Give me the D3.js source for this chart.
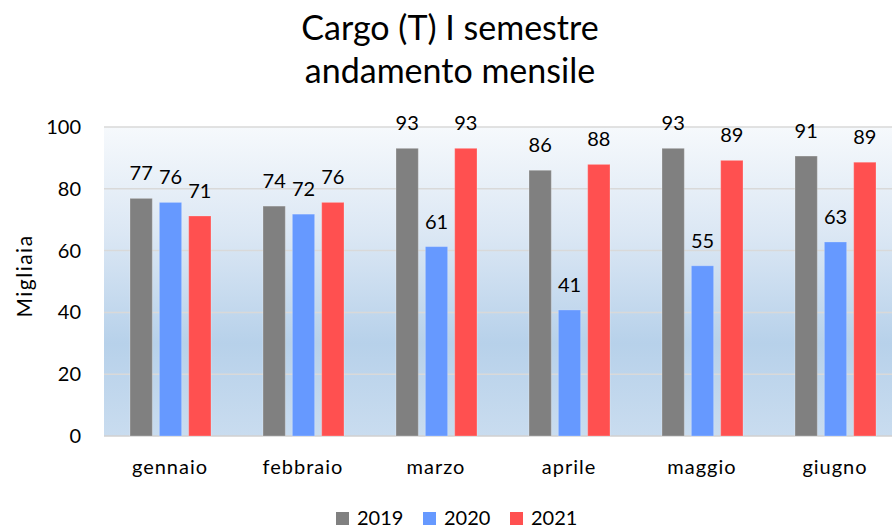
<!DOCTYPE html>
<html>
<head>
<meta charset="utf-8">
<script src="https://cdn.jsdelivr.net/npm/d3@7"></script>
<style>
  body { margin: 0; background: #fff; }
  svg { display: block; font-family: Lato, "Open Sans", sans-serif; }
</style>
</head>
<body>
<svg id="chart" width="892" height="529"></svg>
<script>
// months and series (thousands)
var mesi = ["gennaio", "febbraio", "marzo", "aprile", "maggio", "giugno"];
var anni = ["2019", "2020", "2021"];
var val2019 = [76.9, 74.4, 93.1, 86.0, 93.1, 90.6];
var val2020 = [75.6, 71.8, 61.3, 40.8, 55.1, 62.8];
var val2021 = [71.2, 75.6, 93.1, 87.9, 89.2, 88.6];
var yTicks = [0, 20, 40, 60, 80, 100];
var colori = ["#808080", "#6699ff", "#ff5050"];

var serie = [val2019, val2020, val2021];

var svg = d3.select("#chart");
var pLeft = 104, pRight = 902, pTop = 127, pBottom = 436;

var x = d3.scaleBand().domain(mesi).range([pLeft, pRight]);
var xs = d3.scaleBand().domain(anni).range([0, 81]).paddingInner(0.24);
var y = d3.scaleLinear().domain([0, 100]).range([pBottom, pTop]);

// plot background gradient
var grad = svg.append("defs").append("linearGradient")
    .attr("id", "bg").attr("x1", 0).attr("y1", 0).attr("x2", 0).attr("y2", 1);
grad.append("stop").attr("offset", "0%").attr("stop-color", "#f6f9fc");
grad.append("stop").attr("offset", "35%").attr("stop-color", "#dbe7f4");
grad.append("stop").attr("offset", "70%").attr("stop-color", "#b7d1ea");
grad.append("stop").attr("offset", "100%").attr("stop-color", "#c9dcef");

svg.append("rect")
    .attr("x", pLeft).attr("y", pTop)
    .attr("width", pRight - pLeft).attr("height", pBottom - pTop)
    .attr("fill", "url(#bg)");

// gridlines
svg.append("g")
    .selectAll("line")
    .data(yTicks)
    .enter()
    .append("line")
    .attr("x1", pLeft).attr("x2", pRight)
    .attr("y1", (d) => y(d)).attr("y2", (d) => y(d))
    .attr("stroke", (d) => d === 0 ? "#d0d0d0" : "#d9d9d9")
    .attr("stroke-width", 1.5);

// y tick labels
svg.append("g")
    .selectAll("text")
    .data(yTicks)
    .enter()
    .append("text")
    .attr("x", 81).attr("y", (d) => y(d))
    .attr("dy", "0.35em")
    .attr("text-anchor", "end")
    .attr("font-size", 20)
    .attr("fill", "#000")
    .text((d) => d);

// bars
var gruppi = svg.append("g")
    .selectAll("g")
    .data(mesi)
    .enter()
    .append("g")
    .attr("transform", (d) => "translate(" + (x(d) + x.bandwidth() / 2 - 40.5) + ",0)");

gruppi.selectAll("rect")
    .data((m, i) => serie.map((s, k) => ({ anno: anni[k], v: s[i], c: colori[k] })))
    .enter()
    .append("rect")
    .attr("x", (d) => xs(d.anno))
    .attr("width", xs.bandwidth())
    .attr("y", (d) => y(d.v))
    .attr("height", (d) => y(0) - y(d.v))
    .attr("fill", (d) => d.c)
    .attr("stroke", "#ffffff")
    .attr("stroke-opacity", 0.25)
    .attr("stroke-width", 1);

// data labels
gruppi.selectAll("text")
    .data((m, i) => serie.map((s, k) => ({ anno: anni[k], v: s[i] })))
    .enter()
    .append("text")
    .attr("x", (d) => xs(d.anno) + xs.bandwidth() / 2)
    .attr("y", (d) => y(d.v) - 18)
    .attr("text-anchor", "middle")
    .attr("font-size", 20)
    .text((d) => d3.format(".0f")(d.v));

// x labels
svg.append("g")
    .selectAll("text")
    .data(mesi)
    .enter()
    .append("text")
    .attr("x", (d) => x(d) + x.bandwidth() / 2 - 0.5)
    .attr("y", 474)
    .attr("text-anchor", "middle")
    .attr("font-size", 20)
    .attr("letter-spacing", 1)
    .text((d) => d);

// axis title
svg.append("text")
    .attr("transform", "translate(32,276) rotate(-90)")
    .attr("text-anchor", "middle")
    .attr("font-size", 21)
    .attr("letter-spacing", 1.5)
    .text("Migliaia");

// title
svg.append("text")
    .attr("x", 450).attr("y", 40)
    .attr("text-anchor", "middle")
    .attr("font-size", 34)
    .text("Cargo (T) I semestre");
svg.append("text")
    .attr("x", 450).attr("y", 83)
    .attr("text-anchor", "middle")
    .attr("font-size", 34)
    .text("andamento mensile");

// legend
var leg = svg.append("g")
    .selectAll("g")
    .data(anni)
    .enter()
    .append("g")
    .attr("transform", (d, i) => "translate(" + (336 + i * 87) + ",0)");
leg.append("rect")
    .attr("x", 0).attr("y", 512)
    .attr("width", 13).attr("height", 13)
    .attr("fill", (d, i) => colori[i]);
leg.append("text")
    .attr("x", 21).attr("y", 525)
    .attr("font-size", 20)
    .text((d) => d);
</script>
</body>
</html>
